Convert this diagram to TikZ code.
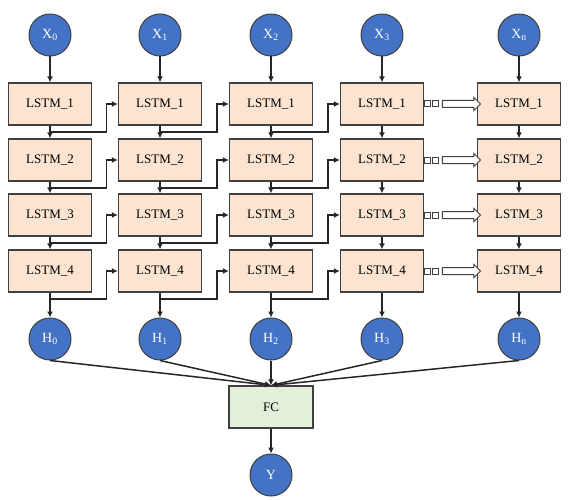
\documentclass[tikz,border=0pt]{standalone}
\usepackage{fontspec}
\setmainfont{Liberation Serif}
\usetikzlibrary{arrows.meta,shapes.arrows,positioning,calc}

\definecolor{unitblue}{HTML}{4472C4}
\definecolor{cellfill}{HTML}{FCE4D0}
\definecolor{fcfill}{HTML}{E2F0D9}
\definecolor{edgegray}{HTML}{404040}

\tikzset{
  unit/.style={circle, draw=edgegray, line width=1pt, fill=unitblue, text=white,
    minimum size=42pt, inner sep=0pt, font=\fontsize{14}{16}\selectfont},
  cell/.style={rectangle, draw=edgegray, line width=1.3pt, fill=cellfill,
    minimum width=83pt, minimum height=42pt, inner sep=0pt,
    font=\fontsize{13}{15}\selectfont},
  flow/.style={line width=1.5pt, draw=black!85, -{Latex[length=6pt,width=6pt]}},
  gapsq/.style={rectangle, draw=edgegray, line width=1pt, fill=white,
    minimum size=6pt, inner sep=0pt},
  hollow/.style={single arrow, draw=edgegray, line width=1pt, fill=white,
    inner xsep=0pt, inner ysep=3pt, minimum width=0pt,
    single arrow head extend=3pt, minimum height=38pt},
}

\begin{document}
\begin{tikzpicture}[x=1pt,y=-1pt]
    \useasboundingbox (0,0) rectangle (578,500);

    % Columns of the unrolled network
    \foreach \c/\xc/\lab in {0/50/0, 1/160/1, 2/271/2, 3/382/3, 4/519/n} {
        \node[unit] (x\c) at (\xc,35) {X\textsubscript{\lab}};
        \foreach \r/\yr in {1/104, 2/160, 3/215, 4/271}
            \node[cell] (l\c\r) at (\xc,\yr) {LSTM\_\r};
        \node[unit] (h\c) at (\xc,339) {H\textsubscript{\lab}};
    }

    % Output part
    \node[rectangle, draw=edgegray, line width=1.3pt, fill=fcfill,
        minimum width=84pt, minimum height=42pt,
        font=\fontsize{13}{15}\selectfont] (fc) at (271,407) {FC};
    \node[unit] (y) at (271,475) {Y};

    % Vertical flow inside each column
    \foreach \c in {0,...,4} {
        \draw[flow] (x\c) -- (l\c1);
        \draw[flow] (l\c1) -- (l\c2);
        \draw[flow] (l\c2) -- (l\c3);
        \draw[flow] (l\c3) -- (l\c4);
        \draw[flow] (l\c4) -- (h\c);
        \draw[flow] (h\c.south) -- (fc.north);
    }
    \draw[flow] (fc) -- (y);

    % Hidden state passed to the next time step
    \foreach \c/\d in {0/1, 1/2, 2/3}
        \foreach \r in {1,...,4}
            \draw[flow] (l\c\r.south) -- ++(0,6.5)
                -| ($(l\c\r.east)!0.55!(l\d\r.west)$) -- (l\d\r.west);

    % Skipped steps between X_3 and X_n
    \foreach \r in {1,...,4} {
        \node[gapsq, right=0.3pt of l3\r] (sa\r) {};
        \node[gapsq, right=0.5pt of sa\r] (sb\r) {};
        \node[hollow, right=3pt of sb\r] (skip\r) {};
    }
\end{tikzpicture}
\end{document}
